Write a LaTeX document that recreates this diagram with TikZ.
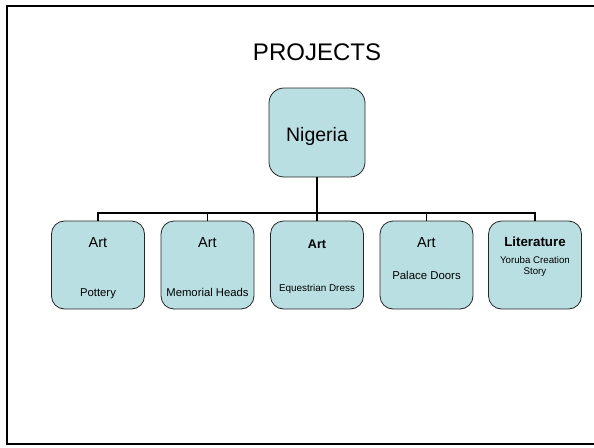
\documentclass[tikz,border=0pt]{standalone}
\usepackage{fontspec}
\setmainfont{Liberation Sans}
\usetikzlibrary{positioning}
\definecolor{boxfill}{RGB}{186,223,226}

\begin{document}
\begin{tikzpicture}[x=1pt, y=-1pt,
    topic/.style={rectangle, rounded corners=13pt, draw=black!85, fill=boxfill, line width=0.8pt, minimum width=93pt, minimum height=88pt},
    head/.style={anchor=base, inner sep=0pt, font=\fontsize{14.5}{16}\selectfont},
    boldhead/.style={anchor=base, inner sep=0pt, font=\fontsize{12.5}{14}\selectfont\bfseries},
    detail/.style={anchor=base, inner sep=0pt, align=center}
]
\useasboundingbox (0,0) rectangle (594,447);

% Frame
\draw[line width=2.5pt] (600,6) -- (7,6) -- (7,444) -- (600,444);

% Title
\node[anchor=base, inner sep=0pt, font=\fontsize{24}{28}\selectfont] (title) at (317,60) {PROJECTS};

% Root
\node[topic, rounded corners=15pt, minimum width=96pt, minimum height=89pt] (nigeria) at (317,132.5) {};
\node[anchor=base, inner sep=0pt, font=\fontsize{19.5}{22}\selectfont] (nigeriaLbl) at (317,141) {Nigeria};

% Projects
\node[topic] (pottery) at (98,265) {};
\node[topic] (heads) at (207.5,265) {};
\node[topic] (dress) at (317,265) {};
\node[topic] (doors) at (426.5,265) {};
\node[topic] (story) at (535,265) {};

\node[head] (potteryHead) at (98,247) {Art};
\node[detail, font=\fontsize{11.3}{13}\selectfont] (potteryLbl) at (98,296) {Pottery};

\node[head] (headsHead) at (207.5,247) {Art};
\node[detail, font=\fontsize{11.3}{13}\selectfont] (headsLbl) at (207.5,296) {Memorial Heads};

\node[boldhead] (dressHead) at (317,248) {Art};
\node[detail, font=\fontsize{9.9}{12}\selectfont] (dressLbl) at (317,291) {Equestrian Dress};

\node[head] (doorsHead) at (426.5,247) {Art};
\node[detail, font=\fontsize{11.4}{13}\selectfont] (doorsLbl) at (426.5,279) {Palace Doors};

\node[boldhead, font=\fontsize{13.3}{15}\selectfont\bfseries] (storyHead) at (535,246) {Literature};
\node[detail, font=\fontsize{9.7}{10.5}\selectfont] (storyLbl) at (535,274) {Yoruba Creation\\Story};

% Connectors
\coordinate (junction) at (317,213);
\draw[line width=2.4pt] (nigeria.south) -- (junction);
\foreach \n in {pottery,heads,dress,doors,story}
    \draw[line width=1.5pt] (junction) -| (\n.north);

\end{tikzpicture}
\end{document}
